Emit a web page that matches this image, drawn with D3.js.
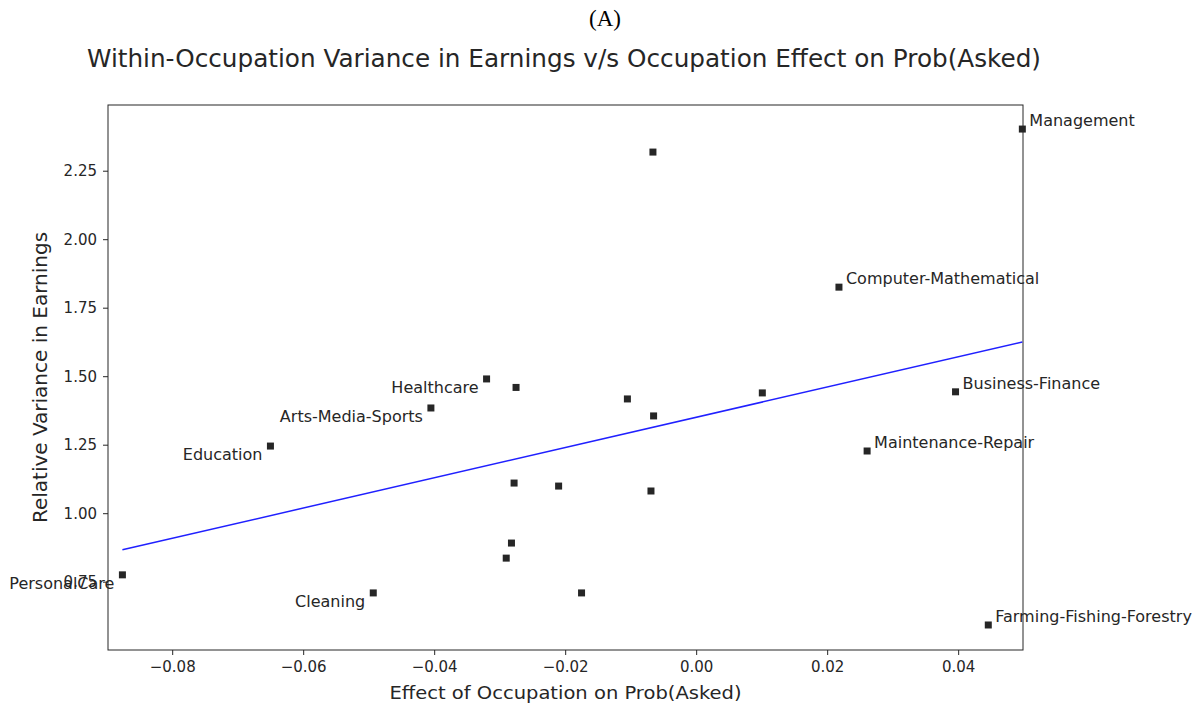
<!DOCTYPE html>
<meta charset="utf-8">
<title>Within-Occupation Variance in Earnings v/s Occupation Effect</title>
<style>
body { margin: 0; background: #fff; }
text { font-family: "DejaVu Sans", sans-serif; }
.tick text { fill: #262626; font-size: 15px; }
.tick line { stroke: #262626; }
.lbl { fill: #262626; font-size: 16px; }
</style>
<script src="https://d3js.org/d3.v7.min.js"></script>
<body>
<script>
// values
var names = ["PersonalCare", "Cleaning", "Education", "Arts-Media-Sports", "Healthcare", "",
             "", "", "", "", "", "", "", "", "", "",
             "Computer-Mathematical", "Business-Finance", "Maintenance-Repair",
             "Farming-Fishing-Forestry", "Management"];
var effect = [-0.0876, -0.0493, -0.0650, -0.0405, -0.0320, -0.0275,
              -0.0066, -0.0105, -0.0065, 0.0101, -0.0278, -0.0210, -0.0069, -0.0282, -0.0290, -0.0175,
              0.0218, 0.0396, 0.0261, 0.0446, 0.0498];
var variance = [0.775, 0.709, 1.245, 1.384, 1.490, 1.459,
                2.318, 1.417, 1.355, 1.439, 1.110, 1.099, 1.081, 0.891, 0.836, 0.709,
                1.825, 1.443, 1.227, 0.592, 2.402];
var labelLeft = ["PersonalCare", "Cleaning", "Education", "Arts-Media-Sports", "Healthcare"];
var xTicks = [-0.08, -0.06, -0.04, -0.02, 0.00, 0.02, 0.04];
var yTicks = [0.75, 1.00, 1.25, 1.50, 1.75, 2.00, 2.25];
var fitSlope = 5.52, fitIntercept = 1.350;

var width = 1203, height = 711;
var mLeft = 108, mRight = 1023, mTop = 105, mBottom = 650;

var svg = d3.select("body").append("svg")
    .attr("width", width)
    .attr("height", height);

var x = d3.scaleLinear().domain([-0.0898, 0.0499]).range([mLeft, mRight]);
var y = d3.scaleLinear().domain([0.5007, 2.4898]).range([mBottom, mTop]);

svg.append("text")
    .attr("x", 605).attr("y", 26)
    .attr("text-anchor", "middle")
    .style("font-family", "'Liberation Serif', serif")
    .style("font-size", "23px")
    .text("(A)");

svg.append("text")
    .attr("x", 564).attr("y", 67)
    .attr("text-anchor", "middle")
    .style("font-size", "24px")
    .attr("textLength", 954)
    .attr("lengthAdjust", "spacingAndGlyphs")
    .attr("fill", "#262626")
    .text("Within-Occupation Variance in Earnings v/s Occupation Effect on Prob(Asked)");

var xAxis = d3.axisBottom(x).tickValues(xTicks).tickSize(5).tickPadding(6)
    .tickFormat(function(d) { return d3.format(".2f")(d).replace("-", "\u2212"); });
var yAxis = d3.axisLeft(y).tickValues(yTicks).tickSize(5).tickPadding(6)
    .tickFormat(d3.format(".2f"));

var gx = svg.append("g").attr("transform", "translate(0," + mBottom + ")").call(xAxis);
gx.select(".domain").remove();
var gy = svg.append("g").attr("transform", "translate(" + mLeft + ",0)").call(yAxis);
gy.select(".domain").remove();
svg.selectAll(".tick text").style("font-family", "'DejaVu Sans', sans-serif");

// frame
svg.append("rect")
    .attr("x", mLeft).attr("y", mTop)
    .attr("width", mRight - mLeft).attr("height", mBottom - mTop)
    .attr("fill", "none").attr("stroke", "#262626").attr("stroke-width", 1);

// fit line across the data range
var xr = d3.extent(effect);
svg.append("line")
    .attr("x1", x(xr[0])).attr("y1", y(fitIntercept + fitSlope * xr[0]))
    .attr("x2", x(xr[1])).attr("y2", y(fitIntercept + fitSlope * xr[1]))
    .attr("stroke", "#2020ff").attr("stroke-width", 1.5);

var pts = effect.map(function(d, i) { return {x: d, y: variance[i], name: names[i]}; });

svg.append("g").selectAll("rect")
    .data(pts)
  .enter().append("rect")
    .attr("x", function(d) { return x(d.x) - 3.5; })
    .attr("y", function(d) { return y(d.y) - 3.5; })
    .attr("width", 7).attr("height", 7)
    .attr("fill", "#262626");

svg.append("g").selectAll("text")
    .data(pts.filter(function(d) { return d.name; }))
  .enter().append("text")
    .attr("class", "lbl")
    .attr("x", function(d) { return labelLeft.indexOf(d.name) >= 0 ? x(d.x) - 8 : x(d.x) + 7; })
    .attr("y", function(d) { return labelLeft.indexOf(d.name) >= 0 ? y(d.y) + 14 : y(d.y) - 3; })
    .attr("text-anchor", function(d) { return labelLeft.indexOf(d.name) >= 0 ? "end" : "start"; })
    .text(function(d) { return d.name; });

svg.append("text")
    .attr("x", (mLeft + mRight) / 2).attr("y", 699)
    .attr("text-anchor", "middle")
    .attr("fill", "#262626")
    .style("font-size", "18px")
    .attr("textLength", 352)
    .attr("lengthAdjust", "spacingAndGlyphs")
    .text("Effect of Occupation on Prob(Asked)");

svg.append("text")
    .attr("transform", "translate(47," + (mTop + mBottom) / 2 + ") rotate(-90)")
    .attr("text-anchor", "middle")
    .attr("fill", "#262626")
    .style("font-size", "20px")
    .text("Relative Variance in Earnings");
</script>
